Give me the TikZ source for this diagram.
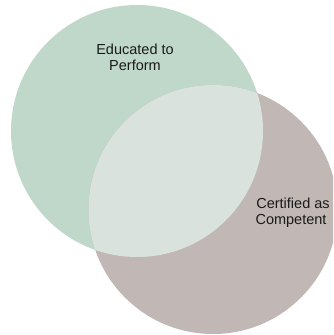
\documentclass[tikz,border=0pt]{standalone}
\usepackage{fontspec}
\setmainfont{Liberation Sans}
\definecolor{edugreen}{RGB}{191,216,202}
\definecolor{certgrey}{RGB}{193,184,181}
\definecolor{overlapc}{RGB}{217,226,220}
\definecolor{txt}{RGB}{26,26,26}
\begin{document}
\begin{tikzpicture}[x=1pt,y=-1pt,
  venn/.style={circle,inner sep=0pt,outer sep=0pt,draw=none},
  lbl/.style={anchor=base,inner sep=0pt,text=txt,font=\fontsize{14.5}{16}\selectfont}]
\useasboundingbox (0,0) rectangle (333,335);
\clip (0,0) rectangle (333,335);
\node[venn,fill=edugreen,minimum size=252pt] (edu) at (137,131) {};
\node[venn,fill=certgrey,minimum size=249pt] (cert) at (213,209.5) {};
\begin{scope}
  \clip (137,131) circle (126);
  \fill[overlapc] (213,209.5) circle (124.5);
\end{scope}
\node[lbl] (edu1) at (135,54) {Educated to};
\node[lbl] (edu2) at (135,70) {Perform};
\node[lbl] (cert1) at (293,208) {Certified as};
\node[lbl] (cert2) at (291,224) {Competent};
\end{tikzpicture}
\end{document}
